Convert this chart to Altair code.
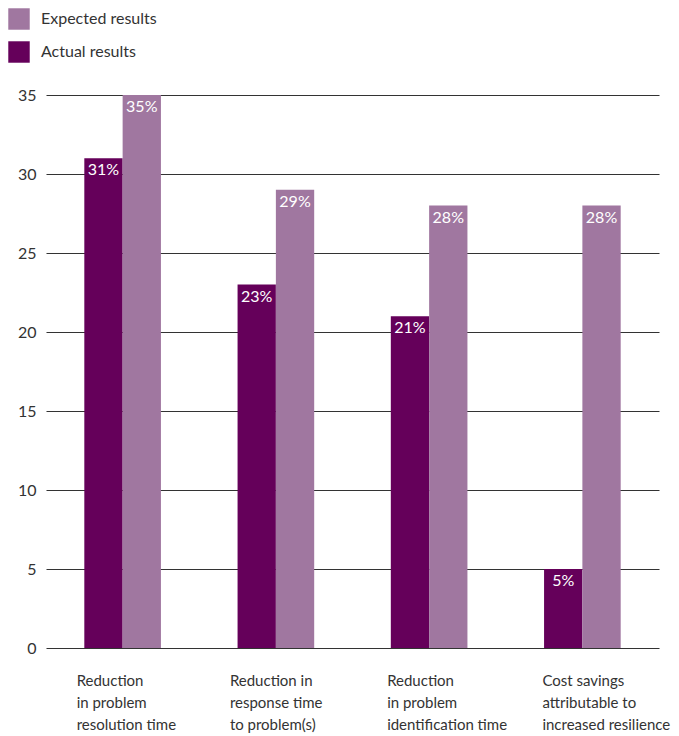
import altair as alt
import pandas as pd

categories = [
    "Reduction|in problem|resolution time",
    "Reduction in|response time|to problem(s)",
    "Reduction|in problem|identification time",
    "Cost savings|attributable to|increased resilience",
]
actual = [31, 23, 21, 5]
expected = [35, 29, 28, 28]
series = ["Actual results", "Expected results"]

rows = []
for c, a, e in zip(categories, actual, expected):
    rows.append({"cat": c, "series": series[0], "value": a, "label": f"{a}%"})
    rows.append({"cat": c, "series": series[1], "value": e, "label": f"{e}%"})
df = pd.DataFrame(rows)

FONT = "Lato"

label_offset = {
    "condition": [
        {"test": f"datum.value == '{categories[2]}'", "value": -42},
        {"test": f"datum.value == '{categories[3]}'", "value": -40},
    ],
    "value": -46,
}

x = alt.X("cat:N", sort=categories, title=None,
          scale=alt.Scale(paddingInner=0.5, paddingOuter=0.25),
          axis=alt.Axis(labelExpr="split(datum.label, '|')", labelAngle=0,
                        labelAlign="left", labelBaseline="top", labelOffset=label_offset,
                        labelPadding=25, labelLineHeight=22, labelFontSize=15,
                        labelColor="#333333", labelFont=FONT, domain=False,
                        ticks=False, grid=False))
xo = alt.XOffset("series:N", sort=series)

bars = alt.Chart(df).mark_bar().encode(
    x=x,
    xOffset=xo,
    y=alt.Y("value:Q", title=None,
            scale=alt.Scale(domain=[0, 35], nice=False),
            axis=alt.Axis(values=[0, 5, 10, 15, 20, 25, 30, 35], grid=True,
                          gridColor="#333333", gridWidth=1.2, domain=False,
                          ticks=False, labelPadding=10, labelFontSize=16,
                          labelColor="#333333", labelFont=FONT)),
    color=alt.Color("series:N",
                    scale=alt.Scale(domain=["Expected results", "Actual results"],
                                    range=["#a077a0", "#65005a"]),
                    legend=alt.Legend(title=None, orient="none", legendX=-38,
                                      legendY=-87, symbolType="square",
                                      symbolSize=460, symbolStrokeWidth=0,
                                      symbolOpacity=1, labelFontSize=16,
                                      labelFont=FONT, labelColor="#333333",
                                      labelOffset=11, rowPadding=11)),
)

labels = alt.Chart(df).mark_text(baseline="top", dy=4, color="white",
                                 fontSize=16, font=FONT).encode(
    x=alt.X("cat:N", sort=categories),
    xOffset=xo,
    y="value:Q",
    text="label:N",
)

chart = alt.layer(bars, labels).properties(
    width=613, height=553,
    padding={"left": 38, "top": 87, "right": 12, "bottom": 90},
    autosize=alt.AutoSizeParams(type="none"),
).configure_view(stroke=None)

chart.save("out.html", embed_options={"renderer": "svg", "actions": False})
